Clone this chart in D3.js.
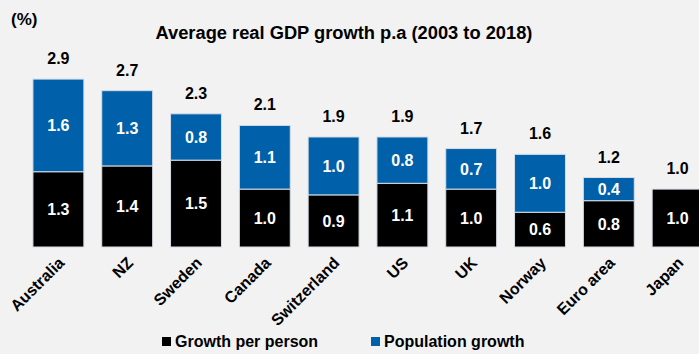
<!DOCTYPE html>
<html>
<head>
<meta charset="utf-8">
<script src="https://cdn.jsdelivr.net/npm/d3@7"></script>
<style>
  body { margin: 0; background: #f2f2f2; }
  svg { display: block; font-family: "Liberation Sans", Arial, sans-serif; font-weight: bold; }
</style>
</head>
<body>
<svg id="drawing_region"></svg>
<script>
// data
const countries = ['Australia', 'NZ', 'Sweden', 'Canada', 'Switzerland', 'US', 'UK', 'Norway', 'Euro area', 'Japan'];
const perPerson = [1.3, 1.4, 1.5, 1.0, 0.9, 1.1, 1.0, 0.6, 0.8, 1.0];
const population = [1.6, 1.3, 0.8, 1.1, 1.0, 0.8, 0.7, 1.0, 0.4, 0];
const totals = [2.9, 2.7, 2.3, 2.1, 1.9, 1.9, 1.7, 1.6, 1.2, 1.0];
const seriesNames = ['Growth per person', 'Population growth'];
const colors = ['#000000', '#0060a9'];

const width = 699, height = 354;
const svg = d3.select('#drawing_region')
  .attr('width', width)
  .attr('height', height);

svg.append('rect').attr('width', width).attr('height', height).attr('fill', '#f2f2f2');

const rows = countries.map((c, i) => ({ label: c, a: perPerson[i], b: population[i], total: totals[i] }));

// scales
const xscale = d3.scaleBand().domain(countries).range([24, 712]).paddingInner(0.26).paddingOuter(0.13);
const yscale = d3.scaleLinear().domain([0, 3]).range([247, 73.3]);

const stack = d3.stack().keys(['a', 'b'])(rows);

const chart = svg.append('g');

// bars
chart.selectAll('g.series')
  .data(stack)
  .join('g')
  .attr('class', 'series')
  .attr('fill', (d, i) => colors[i])
  .selectAll('rect')
  .data(d => d.filter(p => p[1] - p[0] > 0))
  .join('rect')
  .attr('x', d => xscale(d.data.label))
  .attr('y', d => yscale(d[1]))
  .attr('width', xscale.bandwidth())
  .attr('height', d => yscale(d[0]) - yscale(d[1]))
  .attr('stroke', '#d6dde6')
  .attr('stroke-width', 1);

// segment labels
chart.selectAll('g.seglabels')
  .data(stack)
  .join('g')
  .attr('class', 'seglabels')
  .selectAll('text')
  .data(d => d.filter(p => p[1] - p[0] > 0))
  .join('text')
  .attr('x', d => xscale(d.data.label) + xscale.bandwidth() / 2)
  .attr('y', d => (yscale(d[0]) + yscale(d[1])) / 2)
  .attr('dy', '0.36em')
  .attr('text-anchor', 'middle')
  .attr('fill', '#fff')
  .attr('font-size', 16)
  .text(d => (d[1] - d[0]).toFixed(1));

// totals
chart.selectAll('text.total')
  .data(rows)
  .join('text')
  .attr('class', 'total')
  .attr('x', d => xscale(d.label) + xscale.bandwidth() / 2)
  .attr('y', d => yscale(d.total) - 15)
  .attr('text-anchor', 'middle')
  .attr('fill', '#000')
  .attr('font-size', 16)
  .text(d => d.total.toFixed(1));

// x labels
chart.selectAll('text.xlab')
  .data(rows)
  .join('text')
  .attr('class', 'xlab')
  .attr('transform', d => `translate(${xscale(d.label) + xscale.bandwidth() / 2 - 1}, 256) rotate(-45)`)
  .attr('dy', '0.7em')
  .attr('text-anchor', 'end')
  .attr('font-size', 16)
  .text(d => d.label);

// title
svg.append('text')
  .attr('x', 344)
  .attr('y', 39)
  .attr('text-anchor', 'middle')
  .attr('font-size', 18.3)
  .text('Average real GDP growth p.a (2003 to 2018)');

svg.append('text')
  .attr('x', 11)
  .attr('y', 25)
  .attr('font-size', 17)
  .text('(%)');

// legend
const legendX = [162, 371];
const legend = svg.selectAll('g.legend')
  .data(seriesNames)
  .join('g')
  .attr('class', 'legend')
  .attr('transform', (d, i) => `translate(${legendX[i]}, 337)`);
legend.append('rect')
  .attr('width', 9)
  .attr('height', 9)
  .attr('fill', (d, i) => colors[i]);
legend.append('text')
  .attr('x', 13)
  .attr('y', 10)
  .attr('font-size', 16)
  .text(d => d);
</script>
</body>
</html>
